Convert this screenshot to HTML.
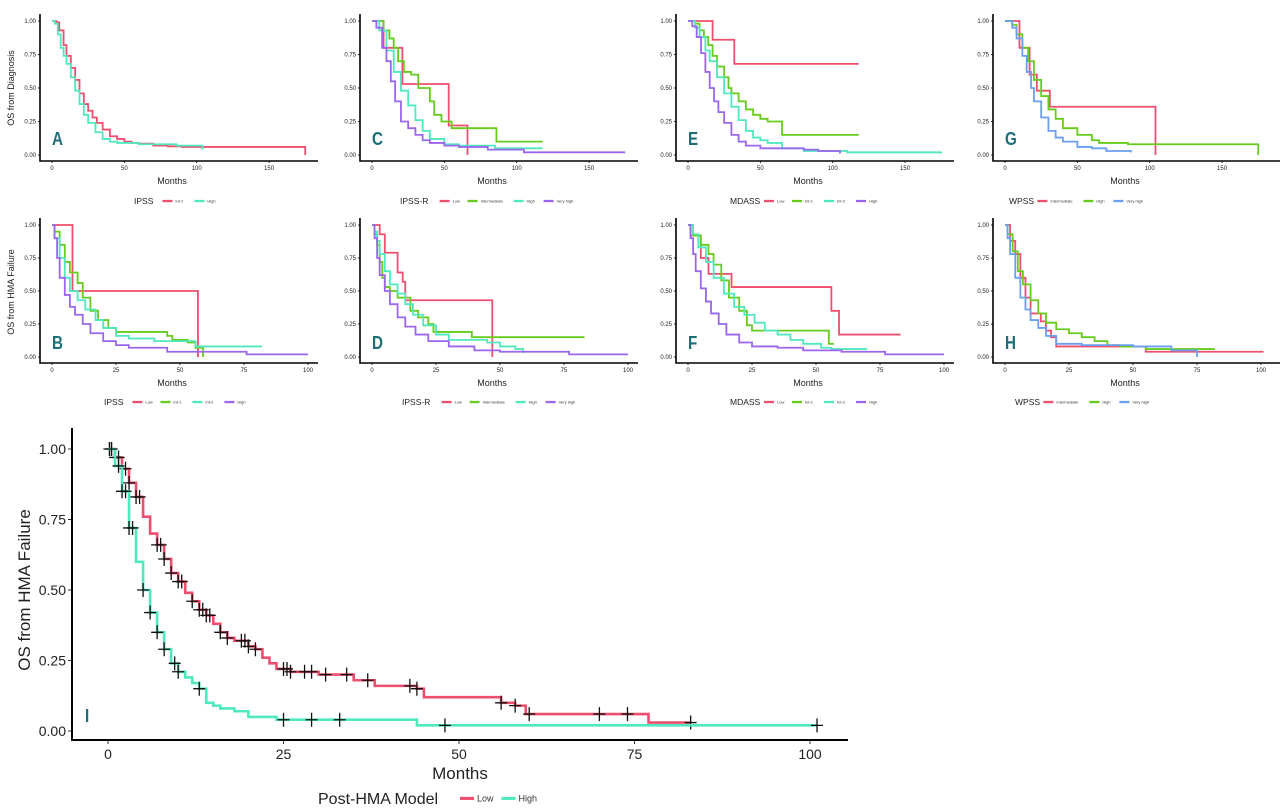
<!DOCTYPE html>
<html><head><meta charset="utf-8"><style>
html,body{margin:0;padding:0;background:#fff;}
svg{display:block;font-family:"Liberation Sans",sans-serif;}
</style></head><body>
<svg id="fig" width="1280" height="812" viewBox="0 0 1280 812" xmlns="http://www.w3.org/2000/svg"></svg>
<script>
// ---- Panel A: IPSS, OS from diagnosis
const aInt2T=[0,3,5,8,10,13,16,19,22,25,28,31,35,40,45,50,55,60,70,80,90,175];
const aInt2S=[1,0.99,0.93,0.82,0.74,0.65,0.56,0.46,0.38,0.33,0.28,0.24,0.19,0.14,0.12,0.1,0.09,0.085,0.07,0.065,0.06,0];
const aHighT=[0,2,4,6,8,10,13,16,19,22,25,30,35,40,45,50,60,70,86,104];
const aHighS=[1,0.98,0.9,0.8,0.74,0.68,0.58,0.48,0.38,0.3,0.24,0.17,0.12,0.1,0.09,0.09,0.08,0.08,0.07,0.04];
// ---- Panel C: IPSS-R
const cLowT=[0,8,21,53,66];
const cLowS=[1,0.8,0.53,0.22,0];
const cIntT=[0,8,12,15,18,22,27,32,40,43,48,55,86,118];
const cIntS=[1,0.93,0.87,0.8,0.7,0.62,0.6,0.5,0.4,0.3,0.25,0.2,0.1,0.1];
const cHighT=[0,5,10,15,20,25,30,35,40,50,60,85,118];
const cHighS=[1,0.93,0.78,0.62,0.48,0.37,0.26,0.18,0.12,0.08,0.07,0.05,0.05];
const cVhT=[0,3,7,10,13,16,20,25,30,35,40,50,60,80,105,175];
const cVhS=[1,0.95,0.8,0.7,0.55,0.4,0.25,0.2,0.15,0.11,0.09,0.07,0.06,0.04,0.02,0.02];
// ---- Panel E: MDASS
const eLowT=[0,17,32,118];
const eLowS=[1,0.86,0.68,0.68];
const eI1T=[0,5,8,11,14,17,20,25,28,30,35,40,45,50,55,65,118];
const eI1S=[1,0.98,0.93,0.88,0.82,0.74,0.66,0.58,0.5,0.46,0.4,0.34,0.3,0.27,0.25,0.15,0.15];
const eI2T=[0,5,8,12,15,20,25,30,35,40,45,50,55,65,80,110,175];
const eI2S=[1,0.95,0.88,0.78,0.7,0.58,0.46,0.36,0.26,0.18,0.13,0.11,0.09,0.05,0.03,0.02,0.01];
const eHighT=[0,3,6,9,12,15,18,21,25,30,35,40,50,60,80,90,105];
const eHighS=[1,0.96,0.88,0.76,0.62,0.5,0.4,0.32,0.24,0.15,0.1,0.07,0.05,0.05,0.04,0.03,0.01];
// ---- Panel G: WPSS
const gIntT=[0,10,17,22,31,104];
const gIntS=[1,0.8,0.6,0.48,0.36,0];
const gHighT=[0,5,8,12,16,20,25,30,35,40,50,60,65,85,175];
const gHighS=[1,0.97,0.9,0.8,0.7,0.56,0.44,0.34,0.27,0.2,0.15,0.11,0.09,0.08,0];
const gVhT=[0,5,8,12,15,18,20,25,30,35,40,50,60,70,87];
const gVhS=[1,0.95,0.87,0.74,0.62,0.5,0.4,0.28,0.18,0.13,0.1,0.06,0.05,0.03,0.02];
// ---- Panel B: IPSS, OS from HMA failure
const bLowT=[0,8,57];
const bLowS=[1,0.5,0];
const bI1T=[0,1,3,5,7,10,12,15,18,22,25,45,47,53,56,59];
const bI1S=[1,0.95,0.85,0.72,0.64,0.56,0.45,0.35,0.28,0.22,0.19,0.16,0.13,0.11,0.07,0];
const bI2T=[0,1,3,5,7,10,13,17,20,25,30,40,56,82];
const bI2S=[1,0.9,0.75,0.6,0.5,0.43,0.36,0.28,0.22,0.16,0.14,0.12,0.08,0.08];
const bHighT=[0,1,2,3,5,7,9,12,15,20,25,30,45,76,100];
const bHighS=[1,0.9,0.75,0.6,0.47,0.38,0.32,0.25,0.18,0.12,0.09,0.07,0.04,0.02,0.02];
// ---- Panel D: IPSS-R
const dLowT=[0,3,5,10,12,13,47];
const dLowS=[1,0.93,0.79,0.64,0.57,0.43,0];
const dIntT=[0,1,2,3,4,5,7,10,15,18,22,24,39,83];
const dIntS=[1,0.93,0.85,0.72,0.6,0.53,0.5,0.45,0.35,0.3,0.25,0.19,0.15,0.15];
const dHighT=[0,1,2,3,5,7,10,13,16,20,25,30,45,50,56,59];
const dHighS=[1,0.95,0.88,0.78,0.65,0.55,0.48,0.4,0.32,0.24,0.17,0.13,0.11,0.08,0.06,0.03];
const dVhT=[0,1,2,3,5,7,10,13,17,22,30,40,50,77,100];
const dVhS=[1,0.9,0.75,0.62,0.5,0.4,0.3,0.23,0.17,0.12,0.08,0.05,0.04,0.02,0.02];
// ---- Panel F: MDASS
const fLowT=[0,1,5,8,17,56,59,83];
const fLowS=[1,0.92,0.75,0.63,0.53,0.35,0.17,0.17];
const fI1T=[0,2,5,8,10,13,16,20,23,25,55,57];
const fI1S=[1,0.92,0.85,0.78,0.7,0.58,0.45,0.35,0.24,0.2,0.1,0.1];
const fI2T=[0,2,4,7,10,14,18,22,26,30,35,40,45,52,56,70];
const fI2S=[1,0.93,0.83,0.72,0.6,0.48,0.38,0.32,0.26,0.2,0.17,0.13,0.1,0.07,0.06,0.06];
const fHighT=[0,1,2,3,5,7,9,12,15,20,25,35,45,60,77,100];
const fHighS=[1,0.9,0.78,0.65,0.52,0.42,0.33,0.25,0.17,0.11,0.08,0.07,0.05,0.04,0.02,0.02];
// ---- Panel H: WPSS
const hIntT=[0,2,4,6,8,10,14,16,18,20,55,101];
const hIntS=[1,0.88,0.78,0.6,0.45,0.33,0.27,0.2,0.15,0.08,0.04,0.04];
const hHighT=[0,1,3,5,7,10,13,16,20,25,30,35,40,45,55,82];
const hHighS=[1,0.93,0.8,0.65,0.55,0.43,0.33,0.26,0.21,0.18,0.15,0.12,0.09,0.08,0.06,0.06];
const hVhT=[0,1,2,4,6,8,10,13,16,20,30,40,50,60,65,75];
const hVhS=[1,0.9,0.78,0.6,0.45,0.36,0.28,0.22,0.16,0.1,0.09,0.09,0.08,0.08,0.05,0];
// ---- Panel I: Post-HMA model
const iLowT=[0,1,2,3,4,5,6,7,8,9,10,11,12,13,14,15,16,17,18,20,21,22,23,24,26,30,35,38,44,45,56,58,59.5,77,83];
const iLowS=[1,0.97,0.93,0.88,0.83,0.76,0.7,0.66,0.61,0.56,0.53,0.49,0.46,0.43,0.41,0.38,0.35,0.33,0.32,0.3,0.29,0.26,0.24,0.22,0.21,0.2,0.18,0.16,0.15,0.12,0.1,0.09,0.06,0.03,0.03];
const iLowCensor=[0.2,0.5,1,1.5,2.5,3,4,4.5,7,7.5,8,9,10,10.5,12,13,13.5,14,14.5,16,17,19,19.5,20,21,25,25.5,26,28,29,31,34,37,43,44,56,58,60,70,74,83];
const iHighT=[0,1,2,3,4,5,6,7,8,9,10,11,12,13,14,15,16,18,20,24,44,101];
const iHighS=[1,0.94,0.85,0.72,0.6,0.5,0.42,0.35,0.29,0.24,0.21,0.19,0.17,0.15,0.1,0.09,0.08,0.07,0.05,0.04,0.02,0.02];
const iHighCensor=[0.5,1.5,2,2.5,3,3.5,5,6,7,8,9.5,10,13,25,29,33,48,101];
const yTicks=[0,0.25,0.5,0.75,1];
const yTickLabels=["0.00","0.25","0.50","0.75","1.00"];
const xTicks175=[0,50,100,150];
const xTicks100=[0,25,50,75,100];

const RED="#ee4f6f",GREEN="#66cc1c",TEAL="#4fe8bf",PURPLE="#9b66ee",BLUE="#6b9ff0",LETTER="#1e6e77";
const NS="http://www.w3.org/2000/svg";
const svg=document.getElementById('fig');
function el(tag,attrs,parent,txt){const e=document.createElementNS(NS,tag);for(const k in attrs)e.setAttribute(k,attrs[k]);if(txt!==undefined)e.textContent=txt;(parent||svg).appendChild(e);return e;}
function stepAt(T,S,t){let v=S[0];for(let i=0;i<T.length;i++){if(T[i]<=t)v=S[i];}return v;}

function panel(c){
  const g=el('g',{});
  
  
  const sx=t=>c.x0+(t-0)*(c.x1-c.x0)/c.xmax;
  const sy=v=>c.y0+(c.y1-c.y0)*v;
  const ax=el('path',{d:`M${c.axX} ${c.axTop} V${c.axY} H${c.axRight}`,fill:'none',stroke:'#000','stroke-width':c.axW},g);
  
  
  yTicks.forEach((v,i)=>{
    el('line',{x1:c.axX-c.tk,x2:c.axX,y1:sy(v),y2:sy(v),stroke:'#000','stroke-width':0.8},g);
    const t=el('text',{x:c.axX-c.tk-2,y:sy(v)+c.fs*0.35,'font-size':c.fs,'text-anchor':'end',fill:'#222'},g,yTickLabels[i]);
    
    
  });
  c.xticks.forEach(v=>{
    el('line',{x1:sx(v),x2:sx(v),y1:c.axY,y2:c.axY+c.tk,stroke:'#000','stroke-width':0.8},g);
    const t=el('text',{x:sx(v),y:c.axY+c.tk+c.fs+1,'font-size':c.fs,'text-anchor':'middle',fill:'#222'},g,String(v));
    
    
  });
  c.series.forEach(s=>{
    let d=`M${sx(s.T[0])} ${sy(s.S[0])}`;
    for(let i=1;i<s.T.length;i++){d+=` H${sx(s.T[i])} V${sy(s.S[i])}`;}
    const p=el('path',{d:d,fill:'none',stroke:s.col,'stroke-width':c.lw,'stroke-linejoin':'miter'},g);
    
    
    if(s.C){s.C.forEach(t=>{const x=sx(t),y=sy(stepAt(s.T,s.S,t));
      const m=el('path',{d:`M${x-6} ${y} H${x+6} M${x} ${y-7} V${y+7}`,stroke:'#111','stroke-width':1.3},g);
      
      
    });}
  });
  const L=el('text',{x:c.lx,y:c.ly,'font-size':c.lfs,'font-weight':'bold',fill:LETTER,transform:`translate(${c.lx} ${c.ly}) scale(0.95 1.15) translate(${-c.lx} ${-c.ly})`},g,c.letter);
  
  
  const xt=el('text',{x:c.mx,y:c.my,'font-size':c.mfs,'text-anchor':'middle',fill:'#222'},g,'Months');
  
  
  if(c.ytitle){const yt=el('text',{x:0,y:0,'font-size':c.mfs,'text-anchor':'middle',fill:'#222',transform:`translate(${c.ytx} ${c.yty}) rotate(-90)`},g,c.ytitle);
    
    }
  const lt=el('text',{x:c.legX,y:c.legY,'font-size':c.legFs,fill:'#222'},g,c.legTitle);
  
  
  let x=c.legX+c.legTitleW+c.gap;
  c.series.forEach(s=>{
    const le=el('g',{},g);
    
    
    el('line',{x1:x,x2:x+c.keyW,y1:c.legY-c.legFs*0.35,y2:c.legY-c.legFs*0.35,stroke:s.col,'stroke-width':c.lw+0.5},le);
    el('text',{x:x+c.keyW+3,y:c.legY-c.legFs*0.35+c.kfs*0.35,'font-size':c.kfs,fill:'#333'},le,s.name);
    x+=c.keyW+6+s.name.length*c.kfs*0.5+c.gap;
  });
}

function small(col,row,letter,xmax,series,legTitle,legX,ytitle){
  const ox=[0,320,636,953][col];
  const r=row===0?{y1:21,y0:155,axY:161,axTop:14,my:184,legY:204}:{y1:225,y0:357,axY:363,axTop:218,my:386,legY:405};
  const x0=52+ox;
  panel({letter,xmax,x0:x0,x1:xmax===175?x0+1.447*175:x0+256,
    y0:r.y0,y1:r.y1,axX:40+ox,axTop:r.axTop,axY:r.axY,axRight:ox+(col===3?1272:318),axW:1.6,tk:2,fs:6,
    xticks:xmax===175?xTicks175:xTicks100,series,lw:1.8,
    lx:52+ox,ly:row===0?145:349,lfs:16,mx:ox+172,my:r.my,mfs:9,ytitle,ytx:14,yty:row===0?88:292,
    legTitle,legX:ox+legX,legY:r.legY,legFs:8.5,legTitleW:legTitle.length*5.6,gap:6,keyW:10,kfs:4});
}
small(0,0,'A',175,[{name:'Int-2',T:aInt2T,S:aInt2S,col:RED},{name:'High',T:aHighT,S:aHighS,col:TEAL}],'IPSS',134,'OS from Diagnosis');
small(1,0,'C',175,[{name:'Low',T:cLowT,S:cLowS,col:RED},{name:'Intermediate',T:cIntT,S:cIntS,col:GREEN},{name:'High',T:cHighT,S:cHighS,col:TEAL},{name:'Very high',T:cVhT,S:cVhS,col:PURPLE}],'IPSS-R',80);
small(2,0,'E',175,[{name:'Low',T:eLowT,S:eLowS,col:RED},{name:'Int-1',T:eI1T,S:eI1S,col:GREEN},{name:'Int-2',T:eI2T,S:eI2S,col:TEAL},{name:'High',T:eHighT,S:eHighS,col:PURPLE}],'MDASS',94);
small(3,0,'G',175,[{name:'Intermediate',T:gIntT,S:gIntS,col:RED},{name:'High',T:gHighT,S:gHighS,col:GREEN},{name:'Very high',T:gVhT,S:gVhS,col:BLUE}],'WPSS',56);
small(0,1,'B',100,[{name:'Low',T:bLowT,S:bLowS,col:RED},{name:'Int-1',T:bI1T,S:bI1S,col:GREEN},{name:'Int-2',T:bI2T,S:bI2S,col:TEAL},{name:'High',T:bHighT,S:bHighS,col:PURPLE}],'IPSS',104,'OS from HMA Failure');
small(1,1,'D',100,[{name:'Low',T:dLowT,S:dLowS,col:RED},{name:'Intermediate',T:dIntT,S:dIntS,col:GREEN},{name:'High',T:dHighT,S:dHighS,col:TEAL},{name:'Very high',T:dVhT,S:dVhS,col:PURPLE}],'IPSS-R',82);
small(2,1,'F',100,[{name:'Low',T:fLowT,S:fLowS,col:RED},{name:'Int-1',T:fI1T,S:fI1S,col:GREEN},{name:'Int-2',T:fI2T,S:fI2S,col:TEAL},{name:'High',T:fHighT,S:fHighS,col:PURPLE}],'MDASS',94);
small(3,1,'H',100,[{name:'Intermediate',T:hIntT,S:hIntS,col:RED},{name:'High',T:hHighT,S:hHighS,col:GREEN},{name:'Very high',T:hVhT,S:hVhS,col:BLUE}],'WPSS',62);

panel({letter:'I',xmax:100,x0:108,x1:810,y0:731,y1:449,axX:72,axTop:428,axY:740,axRight:848,axW:2,tk:4,fs:14,
  xticks:xTicks100,series:[{name:'Low',T:iLowT,S:iLowS,col:RED,C:iLowCensor},{name:'High',T:iHighT,S:iHighS,col:TEAL,C:iHighCensor}],lw:2.6,
  lx:85,ly:722,lfs:16,mx:460,my:779,mfs:17,ytitle:'OS from HMA Failure',ytx:30,yty:590,
  legTitle:'Post-HMA Model',legX:318,legY:804,legFs:16,legTitleW:134,gap:8,keyW:14,kfs:9});
</script>
</body></html>
